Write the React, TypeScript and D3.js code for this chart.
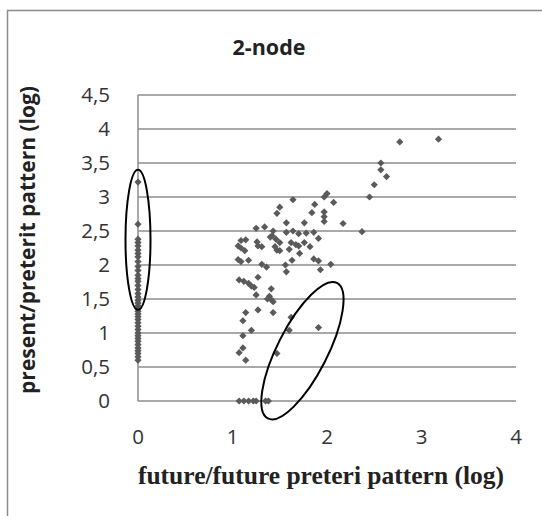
import React, { useRef, useEffect } from 'react'
import * as d3 from 'd3'

// points sitting on x = 0 (present/preterit only)
const zeroColumnY = [
  3.22, 2.6, 2.38, 2.33, 2.28, 2.22, 2.17, 2.12, 2.05, 1.98, 1.92, 1.85, 1.8, 1.76,
  1.7, 1.64, 1.58, 1.53, 1.48, 1.44, 1.4, 1.36, 1.32, 1.28, 1.24, 1.2, 1.15, 1.1,
  1.05, 1.0, 0.96, 0.92, 0.88, 0.83, 0.78, 0.74, 0.7, 0.65, 0.6,
]

// points sitting on y = 0
const zeroRowX = [1.07, 1.12, 1.17, 1.22, 1.25, 1.35, 1.38]

// main cloud [future, present]
const cloudPoints: [number, number][] = [
  [2.0, 3.05], [1.97, 3.0], [1.64, 2.96], [2.07, 2.92], [1.87, 2.89], [1.5, 2.85],
  [1.47, 2.76], [1.84, 2.77], [1.97, 2.78], [1.97, 2.71], [1.97, 2.64], [1.57, 2.62],
  [1.76, 2.62], [2.17, 2.61], [1.25, 2.54], [1.34, 2.56], [1.43, 2.5], [2.37, 2.49],
  [1.57, 2.48], [1.64, 2.5], [1.7, 2.46], [1.78, 2.47], [1.86, 2.48], [1.42, 2.43],
  [1.4, 2.41], [1.91, 2.39], [1.09, 2.36], [1.14, 2.37], [1.26, 2.34], [1.46, 2.38],
  [1.5, 2.33], [1.62, 2.33], [1.67, 2.3], [1.7, 2.28], [1.76, 2.33], [1.06, 2.28],
  [1.09, 2.25], [1.13, 2.21], [1.27, 2.28], [1.31, 2.27], [1.45, 2.27], [1.47, 2.22],
  [1.5, 2.21], [1.6, 2.23], [1.82, 2.27], [1.71, 2.17], [1.63, 2.07], [1.06, 2.08],
  [1.09, 2.05], [1.17, 2.07], [1.86, 2.09], [1.91, 2.06], [1.31, 2.01], [1.36, 1.97],
  [1.56, 2.0], [1.57, 1.9], [2.04, 2.01], [1.93, 1.93], [1.27, 1.82], [1.07, 1.78],
  [1.12, 1.76], [1.17, 1.73], [1.2, 1.69], [1.23, 1.67], [1.41, 1.65], [1.25, 1.56],
  [1.39, 1.54], [1.37, 1.5], [1.41, 1.49], [1.43, 1.46], [1.14, 1.3], [1.27, 1.34],
  [1.43, 1.3], [1.11, 1.18], [1.62, 1.23], [1.2, 1.04], [1.6, 1.04], [1.91, 1.08],
  [1.11, 0.96], [1.11, 0.78], [1.07, 0.71], [1.14, 0.6], [1.47, 0.7],
  [2.77, 3.81], [3.18, 3.85], [2.57, 3.5], [2.57, 3.4], [2.63, 3.3], [2.5, 3.18],
  [2.45, 3.0],
]

const xTicks = [0, 1, 2, 3, 4]
const yTicks = [0, 0.5, 1, 1.5, 2, 2.5, 3, 3.5, 4, 4.5]

const title = '2-node'
const xTitle = 'future/future preteri pattern (log)'
const yTitle = 'present/preterit pattern (log)'

export default function App() {
  const svgRef = useRef<SVGSVGElement>(null)

  useEffect(() => {
    const width = 542
    const height = 516
    const margin = { top: 95, right: 26, bottom: 115, left: 138 }

    const svg = d3.select(svgRef.current)
    svg.selectAll('*').remove()
    svg.attr('width', width).attr('height', height)

    const sans = "'Open Sans', sans-serif"

    // chart frame (runs off the right / bottom of the picture)
    svg.append('path')
      .attr('d', `M7.5,${height + 5} V10.5 H${width + 5}`)
      .attr('fill', 'none')
      .attr('stroke', '#8a8a8a')
      .attr('stroke-width', 1.5)

    const x = d3.scaleLinear().domain([0, 4]).range([margin.left, width - margin.right])
    const y = d3.scaleLinear().domain([0, 4.5]).range([height - margin.bottom, margin.top])

    // gridlines
    svg.append('g')
      .selectAll('line')
      .data(yTicks)
      .join('line')
      .attr('x1', x(0))
      .attr('x2', x(4))
      .attr('y1', d => y(d))
      .attr('y2', d => y(d))
      .attr('stroke', '#8c8c8c')
      .attr('stroke-width', 1.5)

    // y axis line
    svg.append('line')
      .attr('x1', x(0)).attr('x2', x(0))
      .attr('y1', y(0)).attr('y2', y(4.5))
      .attr('stroke', '#8c8c8c')
      .attr('stroke-width', 1.5)

    const fmt = (d: number) => String(d).replace('.', ',')

    svg.append('g')
      .selectAll('text')
      .data(yTicks)
      .join('text')
      .attr('x', x(0) - 28)
      .attr('y', d => y(d))
      .attr('dy', '0.36em')
      .attr('text-anchor', 'end')
      .attr('font-family', sans)
      .attr('font-size', 20.5)
      .attr('fill', '#333')
      .text(fmt)

    svg.append('g')
      .selectAll('text')
      .data(xTicks)
      .join('text')
      .attr('x', d => x(d))
      .attr('y', 444)
      .attr('text-anchor', 'middle')
      .attr('font-family', sans)
      .attr('font-size', 20.5)
      .attr('fill', '#333')
      .text(fmt)

    // titles
    svg.append('text')
      .attr('x', 269)
      .attr('y', 55)
      .attr('text-anchor', 'middle')
      .attr('font-family', sans)
      .attr('font-weight', 'bold')
      .attr('font-size', 21.5)
      .attr('fill', '#222')
      .text(title)

    svg.append('text')
      .attr('transform', `translate(35,${(y(0) + y(4.5)) / 2 - 8}) rotate(-90)`)
      .attr('text-anchor', 'middle')
      .attr('font-family', sans)
      .attr('font-weight', 'bold')
      .attr('font-size', 21)
      .attr('fill', '#222')
      .text(yTitle)

    svg.append('text')
      .attr('x', 321)
      .attr('y', 484)
      .attr('text-anchor', 'middle')
      .attr('font-family', "'Liberation Serif', 'Times New Roman', serif")
      .attr('font-weight', 'bold')
      .attr('font-size', 25.5)
      .attr('fill', '#222')
      .text(xTitle)

    // markers
    const allPoints: [number, number][] = [
      ...zeroColumnY.map(v => [0, v] as [number, number]),
      ...zeroRowX.map(v => [v, 0] as [number, number]),
      ...cloudPoints,
    ]
    const diamond = d3.symbol().type(d3.symbolSquare).size(26)

    svg.append('g')
      .selectAll('path')
      .data(allPoints)
      .join('path')
      .attr('d', diamond)
      .attr('transform', d => `translate(${x(d[0])},${y(d[1])}) rotate(45)`)
      .attr('fill', '#5a5a5a')

    // hand-drawn annotation ellipses
    svg.append('ellipse')
      .attr('cx', x(0))
      .attr('cy', y(2.37))
      .attr('rx', 12.5)
      .attr('ry', 70)
      .attr('fill', 'none')
      .attr('stroke', '#000')
      .attr('stroke-width', 2)

    svg.append('ellipse')
      .attr('transform', `translate(${x(1.74)},${y(0.74)}) rotate(-63)`)
      .attr('rx', 76)
      .attr('ry', 25)
      .attr('fill', 'none')
      .attr('stroke', '#000')
      .attr('stroke-width', 2)
  }, [])

  return (
    <div style={{ position: 'fixed', left: 0, top: 0, background: '#fff' }}>
      <svg ref={svgRef} style={{ display: 'block' }} />
    </div>
  )
}
